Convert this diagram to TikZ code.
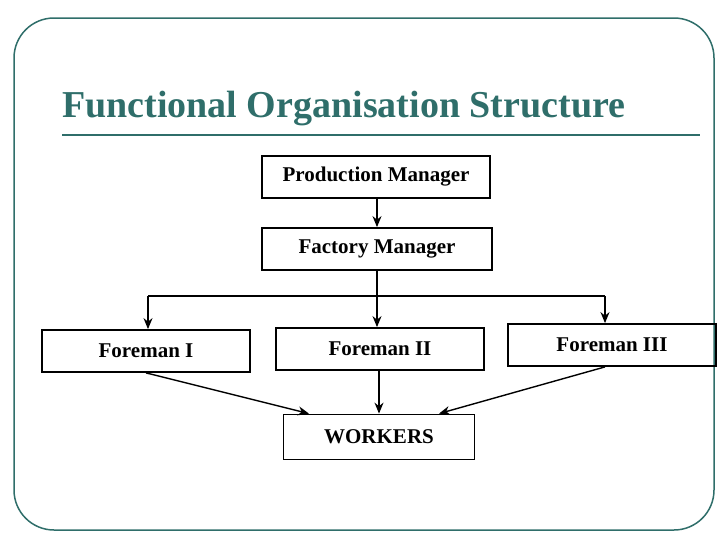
\documentclass[tikz,border=0pt]{standalone}
\usepackage{fontspec}
\setmainfont{Liberation Serif}
\usetikzlibrary{arrows.meta}
\definecolor{teal1}{HTML}{2F6E6A}
\begin{document}
\begin{tikzpicture}[x=1pt,y=-1pt,
  box/.style={draw,line width=1.8pt,minimum width=#1,minimum height=42pt,font=\bfseries\fontsize{21}{23}\selectfont,inner sep=0pt},
  arr/.style={line width=1.4pt,-{Stealth[length=11pt,width=9pt]}},
  ln/.style={line width=1.4pt}]
\useasboundingbox (0,0) rectangle (728,546);
\draw[teal1,line width=1.5pt,rounded corners=40pt] (14,18) rectangle (714,530);
\node[anchor=base west,teal1,font=\bfseries\fontsize{38}{40}\selectfont,inner sep=0pt] (title) at (62,117) {Functional Organisation Structure};
\draw[teal1,line width=1.5pt] (62,135) -- (700,135);
\node[box=228pt] (pm) at (376,177) {Production Manager};
\node[box=230pt] (fm) at (377,249) {Factory Manager};
\node[box=208pt] (f1) at (146,351) {Foreman I};
\node[box=208pt] (f2) at (380,349) {Foreman II};
\node[box=208pt] (f3) at (612,345) {Foreman III};
\node[box=191pt,minimum height=45pt] (w) at (379,437) {WORKERS};
\coordinate (j) at (377,296);
\coordinate (jl) at (148,296);
\coordinate (jr) at (605,296);
\draw[arr] (pm.south -| fm.north) -- (fm.north);
\draw[ln] (fm.south) -- (j);
\draw[ln] (jl) -- (jr);
\draw[arr] (jl) -- (jl |- f1.north);
\draw[arr] (j) -- (j |- f2.north);
\draw[arr] (jr) -- (jr |- f3.north);
\draw[arr] (f1.south) -- ([xshift=-70pt]w.north);
\draw[arr] (f2.south -| w.north) -- (w.north);
\draw[arr] (f3.south -| jr) -- ([xshift=60pt]w.north);
\end{tikzpicture}
\end{document}
